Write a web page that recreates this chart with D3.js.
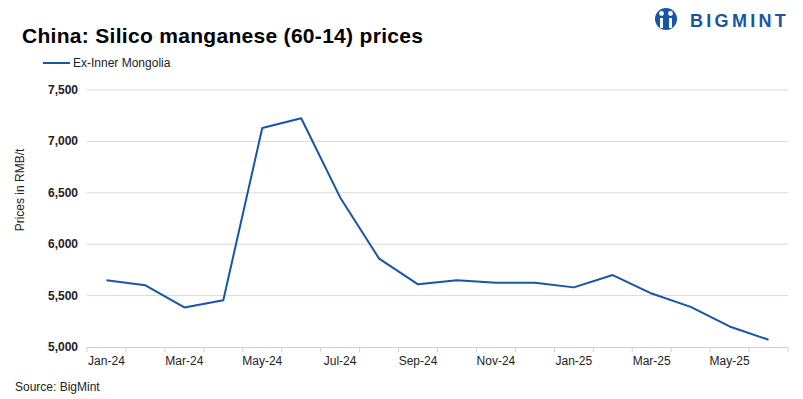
<!DOCTYPE html>
<html><head><meta charset="utf-8">
<script src="https://cdn.jsdelivr.net/npm/d3@7"></script>
<style>body{margin:0;background:#fff}svg{display:block}text{font-family:"Liberation Sans",Arial,sans-serif}</style>
</head><body>
<svg id="c" width="803" height="399"></svg>
<script>
const categories = ["Jan-24","Feb-24","Mar-24","Apr-24","May-24","Jun-24","Jul-24","Aug-24","Sep-24","Oct-24","Nov-24","Dec-24","Jan-25","Feb-25","Mar-25","Apr-25","May-25","Jun-25"];
const seriesName = "Ex-Inner Mongolia";
const values = [5650,5600,5385,5455,7130,7225,6455,5860,5610,5650,5625,5625,5580,5700,5520,5390,5200,5070];
const yTicks = [5000,5500,6000,6500,7000,7500];

const svg = d3.select("#c");
const blue = "#1656a6";
const m = {l:87, r:788, t:90, b:347};
const x = d3.scaleBand().domain(categories).range([m.l, m.r]);
const y = d3.scaleLinear().domain([5000,7500]).range([m.b, m.t]);

// gridlines
svg.append("g").selectAll("line").data(yTicks.filter(d=>d>5000)).join("line")
  .attr("x1", m.l).attr("x2", m.r).attr("y1", d=>y(d)).attr("y2", d=>y(d))
  .attr("stroke","#d9d9d9").attr("stroke-width",1);

// y labels
svg.append("g").selectAll("text").data(yTicks).join("text")
  .attr("x", 78).attr("y", d=>y(d)+4).attr("text-anchor","end")
  .attr("font-size",12).attr("font-weight","bold").attr("fill","#222")
  .text(d=>d3.format(",")(d));

// x axis
const xa = svg.append("g");
xa.append("line").attr("x1",m.l).attr("x2",m.r).attr("y1",m.b+0.5).attr("y2",m.b+0.5).attr("stroke","#d0d0d0");
const bounds = categories.map(c=>x(c)).concat([m.r]);
xa.selectAll("line.t").data(bounds).join("line").attr("class","t")
  .attr("x1",d=>d).attr("x2",d=>d).attr("y1",m.b).attr("y2",m.b+5).attr("stroke","#d0d0d0");
xa.selectAll("text").data(categories.filter((c,i)=>i%2===0)).join("text")
  .attr("x",d=>x(d)+x.bandwidth()/2).attr("y",m.b+18).attr("text-anchor","middle")
  .attr("font-size",12).attr("fill","#222").text(d=>d);

// line
const line = d3.line().x((d,i)=>x(categories[i])+x.bandwidth()/2).y(d=>y(d));
svg.append("path").datum(values).attr("d",line).attr("fill","none")
  .attr("stroke",blue).attr("stroke-width",2).attr("stroke-linejoin","round");

// y title
svg.append("text").attr("transform","translate(24,190) rotate(-90)").attr("text-anchor","middle")
  .attr("font-size",12).attr("fill","#222").text("Prices in RMB/t");

// title
svg.append("text").attr("x",22).attr("y",43).attr("font-size",21).attr("font-weight","bold")
  .attr("letter-spacing",0.3).attr("fill","#000").text("China: Silico manganese (60-14) prices");

// legend
svg.append("line").attr("x1",43).attr("x2",70).attr("y1",63).attr("y2",63).attr("stroke",blue).attr("stroke-width",2);
svg.append("text").attr("x",73).attr("y",67).attr("font-size",12).attr("fill","#222").text(seriesName);

// source
svg.append("text").attr("x",15).attr("y",391).attr("font-size",12).attr("fill","#222").text("Source: BigMint");

// logo
const lg = svg.append("g");
lg.append("circle").attr("cx",666).attr("cy",19).attr("r",11).attr("fill",blue);
lg.append("circle").attr("cx",661.5).attr("cy",13.5).attr("r",2.4).attr("fill","#fff");
lg.append("circle").attr("cx",670.5).attr("cy",13.5).attr("r",2.4).attr("fill","#fff");
lg.append("rect").attr("x",660).attr("y",18).attr("width",3).attr("height",10).attr("fill","#fff");
lg.append("rect").attr("x",669).attr("y",18).attr("width",3).attr("height",10).attr("fill","#fff");
lg.append("text").attr("x",690).attr("y",27).attr("font-size",18).attr("font-weight","bold")
  .attr("letter-spacing",3.3).attr("fill",blue).attr("font-family","'DejaVu Sans',sans-serif").text("BIGMINT");
</script>
</body></html>
